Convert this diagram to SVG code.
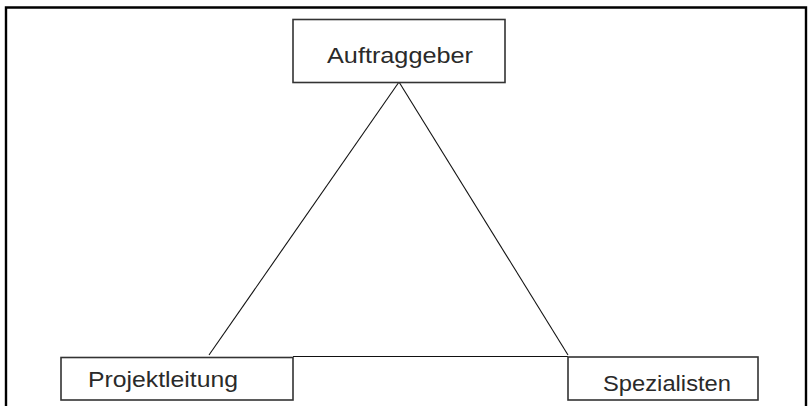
<svg xmlns="http://www.w3.org/2000/svg" width="810" height="406" viewBox="0 0 810 406">
<style>
.frame{fill:none;stroke:#000;stroke-width:2.4}
.box{fill:#fff;stroke:#333;stroke-width:1.6}
.conn{fill:none;stroke:#111;stroke-width:1.1}
.lbl{font-family:"Liberation Sans",Arial,sans-serif;font-size:22.5px;fill:#2a2a2a}
</style>
<rect width="810" height="406" fill="#fff"/>
<path class="frame" d="M6,406 V7.5 H806 V406"/>
<g id="connectors">
<line class="conn" x1="399" y1="82" x2="209" y2="355"/>
<line class="conn" x1="399" y1="82" x2="568" y2="355"/>
<line class="conn" x1="293" y1="356.5" x2="568" y2="356.5"/>
</g>
<g id="auftraggeber">
<rect class="box" x="293" y="19.5" width="212" height="63"/>
<text class="lbl" x="327" y="63" textLength="146" lengthAdjust="spacingAndGlyphs">Auftraggeber</text>
</g>
<g id="projektleitung">
<rect class="box" x="61" y="357.5" width="232" height="42.5"/>
<text class="lbl" x="88" y="387" textLength="150" lengthAdjust="spacingAndGlyphs">Projektleitung</text>
</g>
<g id="spezialisten">
<rect class="box" x="568" y="357" width="190" height="43"/>
<text class="lbl" x="603" y="391" textLength="128" lengthAdjust="spacingAndGlyphs">Spezialisten</text>
</g>
</svg>
